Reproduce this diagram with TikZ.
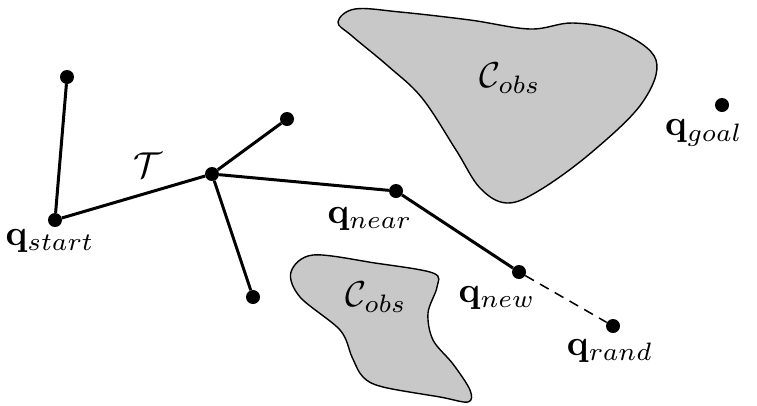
\documentclass[tikz,border=0pt]{standalone}
\usepackage{amsmath}
\begin{document}
\begin{tikzpicture}[x=1pt,y=-1pt,
  dot/.style={circle,fill=black,inner sep=0pt,minimum size=14pt},
  lbl/.style={scale=3.6,inner sep=0pt},
  edge/.style={line width=3pt},
  obst/.style={fill=obsgray,draw=black,line width=1.4pt}]
\definecolor{obsgray}{RGB}{200,200,200}
\useasboundingbox (0,0) rectangle (757,405);
% obstacles
\draw[obst] plot[smooth cycle,tension=0.6] coordinates {
  (338,22) (355,9) (400,12) (470,20) (530,29) (573,23) (620,32) (656,60)
  (642,103) (592,152) (540,190) (507,203) (480,188) (456,150) (422,98) (388,66) (352,36)};
\draw[obst] plot[smooth cycle,tension=0.55] coordinates {
  (313,255) (375,263) (433,273) (437,287) (428,313) (433,340) (453,364) (470,390)
  (468,402) (440,397) (383,387) (363,377) (352,357) (340,330) (300,297) (291,272)};
% tree nodes
\node[dot] (start) at (55,220) {};
\node[dot] (tl) at (67,77) {};
\node[dot] (hub) at (212,174) {};
\node[dot] (ur) at (287,119) {};
\node[dot] (lo) at (253,297) {};
\node[dot] (near) at (396,191) {};
\node[dot] (new) at (519,272) {};
\node[dot] (rand) at (613,326) {};
\node[dot] (goal) at (722,105) {};
% edges
\draw[edge] (start) -- (tl);
\draw[edge] (start) -- (hub);
\draw[edge] (hub) -- (ur);
\draw[edge] (hub) -- (lo);
\draw[edge] (hub) -- (near);
\draw[edge] (near) -- (new);
\draw[line width=1.5pt,dash pattern=on 10pt off 7pt] (new) -- (rand);
% labels
\node[lbl] (lstart) at (50,241) {$\mathbf{q}_{start}$};
\node[lbl] (ltree) at (148,165) {$\mathcal{T}$};
\node[lbl] (lnear) at (370,219) {$\mathbf{q}_{near}$};
\node[lbl] (lnew) at (497,298) {$\mathbf{q}_{new}$};
\node[lbl] (lrand) at (610,351) {$\mathbf{q}_{rand}$};
\node[lbl] (lgoal) at (704,133) {$\mathbf{q}_{goal}$};
\node[lbl] (lobs1) at (510,78) {$\mathcal{C}_{obs}$};
\node[lbl] (lobs2) at (376,297) {$\mathcal{C}_{obs}$};
\end{tikzpicture}
\end{document}
